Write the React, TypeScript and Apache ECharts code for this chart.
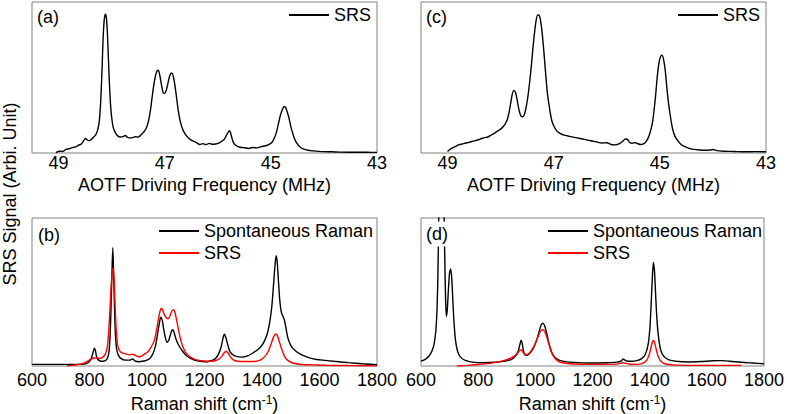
import React, { useEffect, useRef } from 'react';
import * as echarts from 'echarts';

// Tick labels
const AOTF_TICKS = [49, 47, 45, 43];
const RAMAN_MIN = 600;
const RAMAN_MAX = 1800;
const RAMAN_STEP = 200;

// Panel (a): SRS vs AOTF driving frequency (MHz)
const PANEL_A_SRS: [number, number][] = [
  [49.05, 0.3], [48.98, 1.2], [48.92, 1.0], [48.86, 2.4], [48.8, 2.8], [48.74, 3.6], [48.68, 4.0],
  [48.62, 5.2], [48.57, 6.0], [48.52, 8.5], [48.49, 9.6], [48.46, 8.6], [48.42, 8.2], [48.38, 9.2],
  [48.34, 10.5], [48.3, 12.0], [48.27, 14.5], [48.24, 19], [48.22, 26], [48.2, 38], [48.18, 56],
  [48.16, 76], [48.14, 88], [48.12, 92], [48.1, 90], [48.08, 80], [48.06, 62], [48.04, 45],
  [48.02, 32], [48.0, 24], [47.97, 17], [47.93, 13.5], [47.89, 11.5], [47.84, 10.6], [47.79, 10.8],
  [47.74, 11.6], [47.7, 10.4], [47.65, 10.0], [47.6, 10.2], [47.55, 10.8], [47.5, 10.5], [47.46, 11.5],
  [47.42, 13], [47.38, 14.5], [47.34, 17], [47.3, 22], [47.27, 28], [47.24, 36], [47.21, 44],
  [47.18, 50], [47.15, 54], [47.12, 54.8], [47.09, 51], [47.06, 45], [47.03, 40], [47.0, 39.5],
  [46.97, 41.5], [46.94, 46], [46.91, 50.5], [46.88, 52.8], [46.86, 52.8], [46.83, 49.5], [46.8, 43],
  [46.77, 35], [46.74, 27], [46.71, 21.5], [46.67, 16.5], [46.63, 13.5], [46.58, 11], [46.52, 9],
  [46.46, 7.8], [46.4, 6.8], [46.34, 5.6], [46.28, 6.2], [46.22, 5.5], [46.16, 6.4], [46.1, 5.8],
  [46.04, 6.0], [45.98, 6.6], [45.93, 7.6], [45.88, 9.0], [45.84, 11.5], [45.8, 14.0], [45.78, 14.8],
  [45.76, 13.5], [45.73, 9.5], [45.7, 6.5], [45.65, 4.8], [45.58, 3.8], [45.5, 3.5], [45.42, 3.0],
  [45.34, 3.6], [45.26, 3.4], [45.18, 4.2], [45.1, 4.8], [45.04, 5.6], [44.98, 7.0], [44.94, 9.5],
  [44.9, 13], [44.86, 19], [44.82, 25], [44.78, 29], [44.75, 30.8], [44.72, 30], [44.69, 27],
  [44.66, 23.5], [44.63, 18.5], [44.6, 14.5], [44.56, 10], [44.51, 6.5], [44.45, 4.0], [44.38, 2.5],
  [44.3, 1.8], [44.2, 1.4], [44.1, 1.1], [44.0, 0.9], [43.85, 0.8], [43.7, 0.6], [43.5, 0.5],
  [43.3, 0.5], [43.1, 0.4], [43.0, 0.4],
];

// Panel (c): SRS vs AOTF driving frequency (MHz)
const PANEL_C_SRS: [number, number][] = [
  [49.0, 1.0], [48.95, 2.5], [48.9, 3.5], [48.84, 4.6], [48.78, 5.5], [48.72, 6.0], [48.66, 6.6],
  [48.6, 7.0], [48.54, 7.6], [48.48, 8.2], [48.42, 8.8], [48.36, 9.6], [48.3, 10.2], [48.24, 10.6],
  [48.18, 11.8], [48.12, 13.0], [48.06, 14.5], [48.0, 15.8], [47.95, 17.5], [47.91, 19.5], [47.87, 22.5],
  [47.84, 27], [47.81, 33], [47.78, 39], [47.75, 41.5], [47.72, 40], [47.69, 35.5], [47.66, 29.5],
  [47.63, 25.5], [47.6, 24], [47.57, 24.3], [47.54, 27], [47.51, 32], [47.48, 39], [47.45, 48],
  [47.42, 58], [47.39, 70], [47.36, 80], [47.33, 88], [47.3, 91.5], [47.27, 91], [47.24, 86],
  [47.21, 77], [47.18, 65], [47.15, 52], [47.12, 40], [47.08, 30], [47.04, 22], [47.0, 18],
  [46.94, 14.5], [46.88, 13], [46.82, 12], [46.76, 11.5], [46.7, 11.0], [46.64, 10.5], [46.58, 10.2],
  [46.5, 9.6], [46.42, 9.0], [46.34, 8.4], [46.26, 7.8], [46.18, 7.2], [46.1, 6.6], [46.0, 6.8],
  [45.92, 5.6], [45.84, 5.4], [45.76, 6.2], [45.7, 7.8], [45.65, 9.3], [45.61, 9.0], [45.57, 7.0],
  [45.52, 6.5], [45.47, 7.0], [45.42, 6.2], [45.36, 5.6], [45.31, 6.0], [45.26, 7.5], [45.22, 10],
  [45.18, 14], [45.14, 20], [45.11, 28], [45.08, 38], [45.05, 50], [45.02, 59], [44.99, 63.5],
  [44.96, 64.8], [44.93, 62], [44.9, 55], [44.87, 44], [44.84, 34], [44.8, 24], [44.76, 16],
  [44.72, 11.5], [44.67, 8.5], [44.61, 6.0], [44.55, 4.5], [44.46, 3.2], [44.36, 2.4], [44.25, 2.0],
  [44.14, 1.8], [44.05, 2.0], [43.99, 2.3], [43.93, 1.6], [43.8, 1.2], [43.6, 1.0], [43.4, 0.8],
  [43.2, 0.9], [43.0, 0.8],
];

// Panel (b): Raman shift (cm-1)
const PANEL_B_SPONT: [number, number][] = [
  [600, 1.1], [650, 1.1], [700, 1.1], [750, 1.1], [780, 1.3], [795, 2.2], [805, 4.5], [812, 9],
  [817, 12], [821, 10], [826, 5.5], [835, 3.5], [848, 3.2], [858, 4], [864, 6], [868, 10], [872, 22],
  [875, 40], [878, 62], [881, 80], [884, 62], [887, 40], [890, 22], [894, 12], [900, 7.5], [910, 5],
  [925, 4], [940, 4], [950, 4.7], [958, 3.5], [970, 2.9], [985, 3.2], [1000, 4], [1012, 5.5],
  [1022, 9], [1030, 14], [1037, 22], [1043, 29], [1048, 33], [1053, 31], [1058, 25], [1064, 19],
  [1070, 16], [1076, 17.5], [1082, 21.5], [1088, 24.5], [1093, 23.5], [1098, 20], [1104, 16.5],
  [1112, 13.5], [1122, 10.5], [1135, 7.5], [1150, 5.3], [1165, 4], [1180, 3.3], [1200, 2.8],
  [1220, 3.4], [1238, 5], [1250, 8.5], [1258, 13], [1264, 18.5], [1269, 21.5], [1274, 19.5],
  [1280, 15], [1287, 10.5], [1295, 8.2], [1310, 6.5], [1330, 6.0], [1350, 6.8], [1370, 9],
  [1385, 11], [1398, 13.5], [1410, 17.5], [1420, 23], [1428, 31], [1434, 40], [1439, 52], [1444, 65],
  [1449, 74.5], [1453, 70], [1457, 58], [1462, 44], [1467, 36.5], [1473, 33.5], [1478, 31],
  [1484, 25], [1490, 19], [1500, 14], [1515, 10.5], [1535, 7.8], [1560, 5.8], [1590, 4.4],
  [1620, 3.8], [1650, 3.2], [1700, 2.3], [1750, 1.5], [1800, 0.8],
];

const PANEL_B_SRS: [number, number][] = [
  [722, 0], [740, 0.4], [760, 1.0], [780, 2.0], [795, 3.5], [805, 4.8], [815, 5.4], [825, 5.6],
  [835, 5.0], [845, 5.8], [855, 8], [862, 13], [867, 24], [871, 38], [875, 53], [879, 64], [882, 66],
  [885, 60], [888, 46], [891, 32], [894, 21], [898, 14], [904, 10.5], [912, 9], [925, 8.2],
  [940, 7.5], [948, 8.0], [955, 7.6], [965, 6.6], [975, 6.2], [985, 7.2], [995, 8.5], [1005, 10],
  [1015, 13], [1025, 17], [1033, 24], [1040, 32], [1046, 37.5], [1051, 39], [1056, 37], [1062, 34],
  [1068, 32.5], [1074, 32], [1080, 34], [1086, 37], [1092, 38], [1097, 36.5], [1103, 31], [1110, 24],
  [1118, 17], [1128, 11.5], [1140, 7.8], [1155, 5.5], [1175, 4.0], [1200, 3.4], [1225, 3.2],
  [1245, 4.2], [1258, 6], [1268, 8.8], [1275, 10], [1282, 8.8], [1290, 6.2], [1300, 4.2],
  [1315, 3.2], [1340, 3.0], [1370, 3.0], [1395, 4.2], [1410, 6.5], [1422, 10], [1432, 15],
  [1440, 19.5], [1447, 21.7], [1452, 21], [1458, 18], [1465, 13.5], [1472, 9.5], [1480, 6],
  [1490, 3.8], [1505, 2.2], [1530, 1.2], [1570, 0.8], [1620, 0.5], [1700, 0.3], [1800, 0.1],
];

// Panel (d): Raman shift (cm-1)
const PANEL_D_SPONT: [number, number][] = [
  [600, 3.3], [615, 4.5], [628, 6.8], [638, 10], [646, 15], [652, 24], [656, 38], [659, 60],
  [662, 100], [666, 200], [671, 280], [676, 200], [680, 110], [683, 75], [686, 45], [689, 33.5],
  [692, 38], [696, 52], [700, 63], [704, 65.5], [708, 58], [712, 42], [716, 28], [721, 17], [728, 10],
  [738, 6], [755, 3.8], [780, 2.6], [820, 2.2], [860, 2.5], [890, 3.2], [915, 4.3], [930, 6.5],
  [940, 10], [946, 14.5], [950, 17.5], [954, 15.5], [958, 10.5], [964, 7.5], [972, 7.3], [985, 9.5],
  [997, 13.5], [1007, 19], [1015, 24.5], [1021, 28], [1026, 29], [1032, 27.5], [1040, 22],
  [1048, 15], [1058, 9], [1070, 5.5], [1085, 3.8], [1110, 2.8], [1150, 2.3], [1200, 2.0],
  [1250, 2.2], [1285, 2.6], [1300, 3.3], [1307, 4.7], [1312, 4.2], [1320, 3.4], [1335, 3.2],
  [1355, 3.6], [1372, 5], [1385, 8], [1395, 15], [1401, 26], [1406, 45], [1410, 62], [1413, 70],
  [1417, 64], [1421, 48], [1426, 30], [1432, 18], [1440, 10], [1452, 6], [1470, 4], [1500, 3],
  [1540, 2.7], [1580, 3.0], [1620, 3.5], [1650, 3.6], [1680, 3.2], [1720, 2.5], [1760, 2.0],
  [1800, 1.5],
];

const PANEL_D_SRS: [number, number][] = [
  [725, 0], [760, 0.4], [800, 1.0], [840, 1.8], [870, 2.8], [895, 4], [915, 5.5], [930, 7.2],
  [940, 9.3], [948, 10.8], [953, 10.5], [960, 8.5], [968, 7.8], [978, 8.5], [990, 11.5], [1000, 15.5],
  [1010, 20], [1018, 23.5], [1025, 24.5], [1032, 23.5], [1040, 19.5], [1048, 14.5], [1056, 9.5],
  [1066, 5.8], [1078, 3.5], [1095, 2.2], [1120, 1.5], [1160, 1.2], [1200, 1.1], [1250, 1.1],
  [1285, 1.3], [1300, 1.9], [1308, 2.3], [1316, 1.8], [1330, 1.2], [1355, 1.1], [1375, 1.8],
  [1390, 4], [1398, 7.5], [1404, 12], [1409, 16], [1413, 17.3], [1417, 16], [1422, 12], [1428, 7.5],
  [1436, 4], [1448, 2], [1465, 1], [1490, 0.6], [1550, 0.4], [1650, 0.4], [1720, 0.4],
];

const FONT = 'Liberation Sans, Arial, sans-serif';
const BLACK = '#000000';
const RED = '#ff0000';
const FRAME = '#808080';

const stripTag = (name: string) => name.replace(/ \([a-d]\)$/, '');

export default function App() {
  const ref = useRef<HTMLDivElement>(null);

  useEffect(() => {
    if (!ref.current) return;
    const chart = echarts.init(ref.current, null, { renderer: 'svg' });

    const grids = [
      { left: 32, top: 2, width: 345, height: 151 },
      { left: 421, top: 2, width: 345, height: 151 },
      { left: 32, top: 218, width: 345, height: 150 },
      { left: 421, top: 218, width: 345, height: 150 },
    ].map((g) => ({
      ...g,
      show: true,
      borderColor: FRAME,
      borderWidth: 1,
      backgroundColor: 'transparent',
      containLabel: false,
    }));

    const labelStyle = { color: BLACK, fontSize: 18, fontFamily: FONT };

    const aotfAxis = (gridIndex: number) => ({
      gridIndex,
      type: 'value',
      min: 43,
      max: 49.5,
      inverse: true,
      axisLine: { show: false },
      axisTick: { show: false },
      splitLine: { show: false },
      axisLabel: {
        ...labelStyle,
        margin: 1,
        customValues: AOTF_TICKS,
        showMinLabel: true,
        showMaxLabel: true,
        formatter: (v: number) => String(v),
      },
      name: 'AOTF Driving Frequency (MHz)',
      nameLocation: 'middle',
      nameGap: 23,
      nameTextStyle: labelStyle,
    });

    const ramanAxis = (gridIndex: number) => ({
      gridIndex,
      type: 'value',
      min: RAMAN_MIN,
      max: RAMAN_MAX,
      interval: RAMAN_STEP,
      axisLine: { show: false },
      axisTick: { show: false },
      splitLine: { show: false },
      axisLabel: {
        ...labelStyle,
        margin: 5,
        showMinLabel: true,
        showMaxLabel: true,
        formatter: (v: number) => String(v),
      },
      name: '{n|Raman shift (cm}{s|-1}{n|)}',
      nameLocation: 'middle',
      nameGap: 28,
      nameTextStyle: {
        ...labelStyle,
        rich: {
          n: { fontSize: 18, fontFamily: FONT, color: BLACK, lineHeight: 20 },
          s: { fontSize: 12, fontFamily: FONT, color: BLACK, lineHeight: 12, verticalAlign: 'top' },
        },
      },
    });

    const yAxis = [0, 1, 2, 3].map((gridIndex) => ({
      gridIndex,
      type: 'value',
      min: 0,
      max: 100,
      show: false,
    }));

    const line = (name: string, idx: number, data: [number, number][], color: string) => ({
      name,
      type: 'line',
      xAxisIndex: idx,
      yAxisIndex: idx,
      data,
      symbol: 'none',
      smooth: 0.25,
      clip: true,
      color,
      itemStyle: { color },
      lineStyle: { color, width: 1.4 },
    });

    const legendBase = {
      orient: 'vertical',
      padding: 0,
      icon: 'rect',
      itemWidth: 40,
      itemHeight: 2,
      itemGap: 4,
      selectedMode: false,
      formatter: stripTag,
      textStyle: { color: BLACK, fontSize: 18, fontFamily: FONT },
    };

    const panelLabel = (text: string, x: number, y: number, cover = false) => ({
      type: 'text',
      x,
      y,
      z: 100,
      style: {
        text,
        fill: BLACK,
        font: `18px ${FONT}`,
        align: 'left',
        verticalAlign: 'middle',
        backgroundColor: cover ? '#ffffff' : 'transparent',
        padding: cover ? [4, 0, 3, 0] : 0,
      },
    });

    const option = {
      animation: false,
      backgroundColor: '#ffffff',
      grid: grids,
      xAxis: [aotfAxis(0), aotfAxis(1), ramanAxis(2), ramanAxis(3)],
      yAxis,
      legend: [
        { ...legendBase, data: ['SRS (a)'], left: 289, top: 6 },
        { ...legendBase, data: ['SRS (c)'], left: 678, top: 6 },
        { ...legendBase, data: ['Spontaneous Raman (b)', 'SRS (b)'], left: 159, top: 222 },
        { ...legendBase, data: ['Spontaneous Raman (d)', 'SRS (d)'], left: 548, top: 222 },
      ],
      series: [
        line('SRS (a)', 0, PANEL_A_SRS, BLACK),
        line('SRS (c)', 1, PANEL_C_SRS, BLACK),
        line('Spontaneous Raman (b)', 2, PANEL_B_SPONT, BLACK),
        line('SRS (b)', 2, PANEL_B_SRS, RED),
        line('Spontaneous Raman (d)', 3, PANEL_D_SPONT, BLACK),
        line('SRS (d)', 3, PANEL_D_SRS, RED),
      ],
      graphic: [
        panelLabel('(a)', 37, 17),
        panelLabel('(c)', 426, 17),
        panelLabel('(b)', 38, 235),
        panelLabel('(d)', 426, 234, true),
        {
          type: 'text',
          x: 10,
          y: 194,
          z: 100,
          rotation: Math.PI / 2,
          style: {
            text: 'SRS Signal (Arbi. Unit)',
            fill: BLACK,
            font: `18px ${FONT}`,
            align: 'center',
            verticalAlign: 'middle',
          },
        },
      ],
    };

    chart.setOption(option as any);
    return () => chart.dispose();
  }, []);

  return (
    <div
      ref={ref}
      style={{ position: 'absolute', left: 0, top: 0, width: 787, height: 414, background: '#fff' }}
    />
  );
}
